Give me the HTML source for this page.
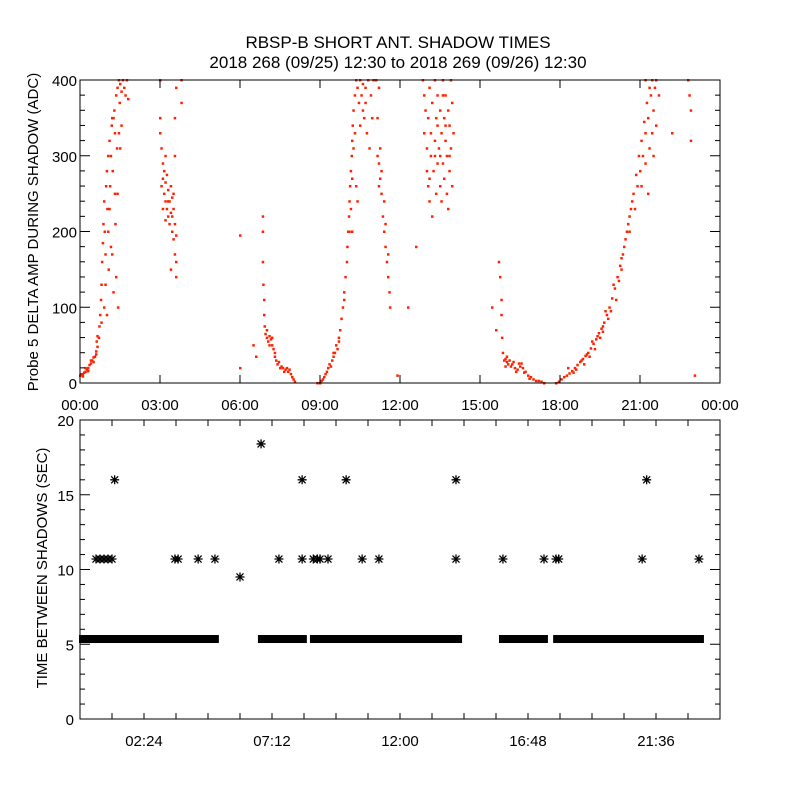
<!DOCTYPE html>
<html><head><meta charset="utf-8"><style>
html,body{margin:0;padding:0;background:#fff;}
svg{display:block;font-family:"Liberation Sans",sans-serif;}
</style></head><body>
<svg id="chart" width="800" height="800" viewBox="0 0 800 800" xmlns="http://www.w3.org/2000/svg">
<rect width="800" height="800" fill="#fff"/>
<text x="398" y="48" font-size="17" text-anchor="middle" fill="#000">RBSP-B SHORT ANT. SHADOW TIMES</text>
<text x="398" y="68" font-size="17" text-anchor="middle" fill="#000">2018 268 (09/25) 12:30 to 2018 269 (09/26) 12:30</text>
<g id="topPanel"></g>
<g id="botPanel"></g>
</svg>
<script>
// ---- Top panel data: [hour, ADC]
const topXTicks = ["00:00","03:00","06:00","09:00","12:00","15:00","18:00","21:00","00:00"];
const topYTicks = [0,100,200,300,400];
const ampPoints = [
[0,10],[0.05,12],[0.1,9],[0.15,14],[0.2,15],[0.25,18],[0.3,20],[0.35,24],[0.4,26],[0.45,30],[0.5,28],[0.55,35],[0.6,42],[0.62,55],[0.65,48],[0.7,60],[0.72,75],[0.75,90],[0.78,110],[0.8,130],[0.82,160],[0.85,185],[0.87,210],[0.9,240],[0.92,200],[0.95,170],[0.97,260],[1.0,280],[1.02,230],[1.05,300],[1.07,150],[1.1,320],[1.12,260],[1.15,180],[1.18,340],[1.2,350],[1.22,280],[1.25,120],[1.28,360],[1.3,330],[1.32,210],[1.35,380],[1.38,310],[1.4,390],[1.42,100],[1.45,400],[1.48,370],[1.5,395],[1.55,385],[1.6,400],[1.65,390],[1.7,380],[1.8,375],[1.75,400],[0.9,100],[0.95,130],[1.0,90],[1.05,200],[1.1,230],[1.2,170],[1.3,250],[1.15,300],[1.25,350],[1.4,250],[1.35,140],[1.45,330],[1.5,310],[1.55,340],[0.1,12],[0.2,20],[0.3,16],[0.4,30],[0.5,34],[0.6,38],[0.65,62],[0.8,80],
[3.0,400],[3.0,350],[3.0,330],[3.05,310],[3.1,290],[3.1,270],[3.15,280],[3.15,250],[3.2,265],[3.2,240],[3.25,275],[3.25,230],[3.3,255],[3.3,220],[3.35,240],[3.35,210],[3.4,260],[3.4,225],[3.45,200],[3.45,245],[3.5,190],[3.5,230],[3.55,170],[3.55,210],[3.6,160],[3.6,195],[3.4,150],[3.6,140],[3.55,300],[3.55,350],[3.6,390],[3.8,400],[3.8,370],[3.2,300],[3.1,230],[3.05,260],[3.3,240],[3.45,220],[3.2,215],[3.5,250],
[6.0,195],[6.0,20],[6.5,50],[6.6,35],
[6.85,220],[6.85,200],[6.85,160],[6.87,130],[6.9,110],[6.9,90],[6.92,75],[6.95,65],[7.0,60],[7.05,55],[7.1,62],[7.15,58],[7.2,50],[7.25,45],[7.3,40],[7.35,30],[7.4,25],[7.5,20],[7.6,20],[7.7,18],[7.8,15],[7.9,12],[7.95,8],[8.0,5],[8.05,2],[7.0,70],[7.1,50],[7.2,60],[7.3,35],[7.45,28],[7.65,15],[7.85,18],[7.55,22],[7.75,20],
[8.9,0],[9.0,0],[9.05,3],[9.1,5],[9.15,8],[9.2,12],[9.25,15],[9.3,20],[9.35,25],[9.4,22],[9.45,30],[9.5,35],[9.55,40],[9.6,50],[9.65,45],[9.7,60],[9.75,70],[9.8,85],[9.85,100],[9.9,120],[9.95,140],[10.0,160],[10.02,180],[10.05,200],[10.08,220],[10.1,240],[10.12,260],[10.15,280],[10.18,300],[10.2,320],[10.22,340],[10.25,360],[10.3,380],[10.35,400],[10.1,200],[10.15,230],[10.2,270],[10.25,310],[10.3,330],[10.4,390],[10.45,370],[10.5,400],[10.55,380],[10.6,360],[10.65,350],[10.7,390],[10.75,330],[10.8,400],[10.85,310],[10.9,380],[10.5,340],[10.6,395],[10.7,370],[10.4,240],[10.35,260],[10.95,350],[11.0,400],[10.2,200],[9.5,40],[9.7,55],[9.9,110],
[11.15,300],[11.2,290],[11.25,270],[11.3,250],[11.35,220],[11.4,200],[11.45,180],[11.5,160],[11.55,140],[11.6,120],[11.62,100],[11.55,170],[11.45,210],[11.3,280],[11.2,260],[11.4,240],[11.25,310],[11.15,350],[11.2,390],[11.1,400],
[12.6,180],[12.3,100],[11.9,10],
[12.85,400],[12.9,380],[12.95,360],[12.9,330],[13.0,310],[13.0,280],[13.05,350],[13.05,260],[13.1,390],[13.1,240],[13.15,300],[13.15,330],[13.2,370],[13.2,220],[13.25,280],[13.3,400],[13.3,320],[13.35,250],[13.35,350],[13.4,290],[13.4,380],[13.45,310],[13.5,260],[13.5,360],[13.55,240],[13.55,330],[13.6,400],[13.6,290],[13.65,350],[13.65,270],[13.7,320],[13.7,380],[13.75,250],[13.75,300],[13.8,360],[13.8,230],[13.85,340],[13.85,280],[13.9,400],[13.9,310],[13.95,260],[13.95,370],[14.0,330],[13.3,300],[13.5,300],[13.7,340],[13.1,270],[13.4,340],[13.6,380],[13.85,300],
[15.45,100],[15.6,70],[15.7,160],[15.75,140],[15.8,110],[15.8,90],[15.82,60],[15.85,40],[15.9,30],[15.95,32],[16.0,28],[16.05,25],[16.1,30],[16.15,22],[16.2,25],[16.3,20],[16.4,18],[16.5,22],[16.55,26],[16.6,20],[16.7,15],[16.8,10],[16.9,8],[17.0,5],[17.1,3],[17.2,3],[17.3,2],[17.4,0],[15.95,22],[16.25,28],[16.45,26],[16.65,14],[16.85,6],[16.0,35],[16.35,15],
[17.85,0],[17.95,2],[18.05,5],[18.15,8],[18.25,10],[18.35,13],[18.45,16],[18.55,20],[18.65,24],[18.75,28],[18.85,32],[18.95,36],[19.05,40],[19.15,46],[19.25,52],[19.35,58],[19.45,66],[19.55,72],[19.65,80],[19.75,90],[19.85,100],[19.95,112],[20.05,125],[20.15,140],[20.25,155],[20.35,170],[20.45,190],[20.55,210],[20.65,230],[20.75,250],[20.85,275],[20.95,300],[21.05,320],[21.15,345],[21.25,370],[21.35,390],[21.45,400],[19.1,35],[19.3,45],[19.5,60],[19.6,75],[19.8,85],[19.9,95],[20.0,130],[20.1,110],[20.2,135],[20.3,150],[20.4,180],[20.5,200],[20.6,220],[20.7,240],[20.8,230],[20.9,260],[21.0,280],[21.1,300],[21.2,330],[21.3,350],[21.4,380],[21.5,360],[21.55,390],[21.6,340],[21.05,260],[21.2,290],[21.35,310],[21.45,330],[21.5,300],[21.6,400],[18.3,20],[18.6,18],[18.9,25],[19.2,55],[19.7,95],[20.3,165],[20.6,200],[21.7,380],[21.2,400],[21.3,250],[22.2,330],[22.8,400],[22.85,380],[22.9,360],[22.9,320],[23.05,10],[18.5,14],[18.8,30],[19.0,38],[19.4,62],[19.6,68]
];
// ---- Bottom panel data
const botXTicks = ["02:24","07:12","12:00","16:48","21:36"];
const botXTickHours = [2.4,7.2,12.0,16.8,21.6];
const botYTicks = [0,5,10,15,20];
const bandValue = 5.35;
const bandStarts = [0,6.71,8.66,15.75,17.78];
const bandEnds = [5.17,8.47,14.29,17.51,23.36];
const gapHours = [0.6,0.75,0.9,1.05,1.2,1.3,3.56,3.68,4.43,5.06,6.0,6.79,7.46,8.33,8.33,8.75,8.9,9.0,9.3,9.98,10.58,11.21,14.1,14.1,15.86,17.4,17.85,17.95,21.08,21.25,23.21];
const gapValues = [10.7,10.7,10.7,10.7,10.7,16,10.7,10.7,10.7,10.7,9.5,18.4,10.7,10.7,16,10.7,10.7,10.7,10.7,16,10.7,10.7,10.7,16,10.7,10.7,10.7,10.7,10.7,16,10.7];

const NS="http://www.w3.org/2000/svg";
function mk(parent,tag,attrs){const e=document.createElementNS(NS,tag);for(const k in attrs)e.setAttribute(k,attrs[k]);parent.appendChild(e);return e;}

// top axes
const T={x0:80,x1:720,y0:383,y1:80};
const tx=h=>T.x0+(h/24)*(T.x1-T.x0);
const ty=v=>T.y0-(v/400)*(T.y0-T.y1);
const topG=document.getElementById('topPanel');
const tpts=mk(topG,'g',{});


ampPoints.forEach(p=>{
  const v=Math.min(p[1],400);
  const r=mk(tpts,'rect',{x:(tx(p[0])-1).toFixed(1),y:(ty(v)-1).toFixed(1),width:2.5,height:2.5,fill:'#ff2200'});
  
  
});
const tframe=mk(topG,'rect',{x:T.x0,y:T.y1,width:T.x1-T.x0,height:T.y0-T.y1,fill:'none',stroke:'#000','stroke-width':1});


topXTicks.forEach((l,i)=>{
  const x=tx(i*3);
  mk(topG,'line',{x1:x,y1:T.y0,x2:x,y2:T.y0-8,stroke:'#000'});
  mk(topG,'line',{x1:x,y1:T.y1,x2:x,y2:T.y1+8,stroke:'#000'});
  const t=mk(topG,'text',{x:x,y:T.y0+27,'font-size':15,'text-anchor':'middle',fill:'#000'});
  t.textContent=l;
  
  
});
for(let v=0;v<=400;v+=20){
  const y=ty(v),L=(v%100===0)?10:5;
  mk(topG,'line',{x1:T.x0,y1:y,x2:T.x0+L,y2:y,stroke:'#000'});
  mk(topG,'line',{x1:T.x1,y1:y,x2:T.x1-L,y2:y,stroke:'#000'});
}
topYTicks.forEach(v=>{
  const t=mk(topG,'text',{x:T.x0-3,y:ty(v)+6,'font-size':15,'text-anchor':'end',fill:'#000'});
  t.textContent=v;
  
  
});
const tyl=mk(topG,'text',{x:38,y:232,'font-size':15,'text-anchor':'middle',fill:'#000',transform:'rotate(-90 38 232)'});
tyl.textContent='Probe 5 DELTA AMP DURING SHADOW (ADC)';



// bottom axes
const B={x0:80,x1:720,y0:719,y1:420};
const bx=h=>B.x0+(h/24)*(B.x1-B.x0);
const by=v=>B.y0-(v/20)*(B.y0-B.y1);
const botG=document.getElementById('botPanel');
bandStarts.forEach((s,i)=>{
  const r=mk(botG,'rect',{x:bx(s)-1,y:by(bandValue)-4,width:bx(bandEnds[i])-bx(s)+2,height:8,fill:'#000'});
  
  
});
gapHours.forEach((h,i)=>{
  const cx=bx(h),cy=by(gapValues[i]);
  const g=mk(botG,'path',{d:`M${cx-4.5} ${cy}H${cx+4.5}M${cx} ${cy-4.5}V${cy+4.5}M${cx-3.5} ${cy-3.5}L${cx+3.5} ${cy+3.5}M${cx-3.5} ${cy+3.5}L${cx+3.5} ${cy-3.5}`,stroke:'#000','stroke-width':1.3,fill:'none'});
  
  
});
const bframe=mk(botG,'rect',{x:B.x0,y:B.y1,width:B.x1-B.x0,height:B.y0-B.y1,fill:'none',stroke:'#000','stroke-width':1});


for(let i=1;i<20;i++){
  const x=bx(i*1.2);
  mk(botG,'line',{x1:x,y1:B.y0,x2:x,y2:B.y0-6,stroke:'#000'});
  mk(botG,'line',{x1:x,y1:B.y1,x2:x,y2:B.y1+6,stroke:'#000'});
}
botXTicks.forEach((l,i)=>{
  const t=mk(botG,'text',{x:bx(botXTickHours[i]),y:B.y0+27,'font-size':15,'text-anchor':'middle',fill:'#000'});
  t.textContent=l;
  
  
});
for(let v=0;v<=20;v++){
  const y=by(v),L=(v%5===0)?10:5;
  mk(botG,'line',{x1:B.x0,y1:y,x2:B.x0+L,y2:y,stroke:'#000'});
  mk(botG,'line',{x1:B.x1,y1:y,x2:B.x1-L,y2:y,stroke:'#000'});
}
botYTicks.forEach(v=>{
  const t=mk(botG,'text',{x:B.x0-6,y:by(v)+6,'font-size':15,'text-anchor':'end',fill:'#000'});
  t.textContent=v;
  
  
});
const byl=mk(botG,'text',{x:47,y:568,'font-size':15,'text-anchor':'middle',fill:'#000',transform:'rotate(-90 47 568)'});
byl.textContent='TIME BETWEEN SHADOWS (SEC)';


</script>
</body></html>
